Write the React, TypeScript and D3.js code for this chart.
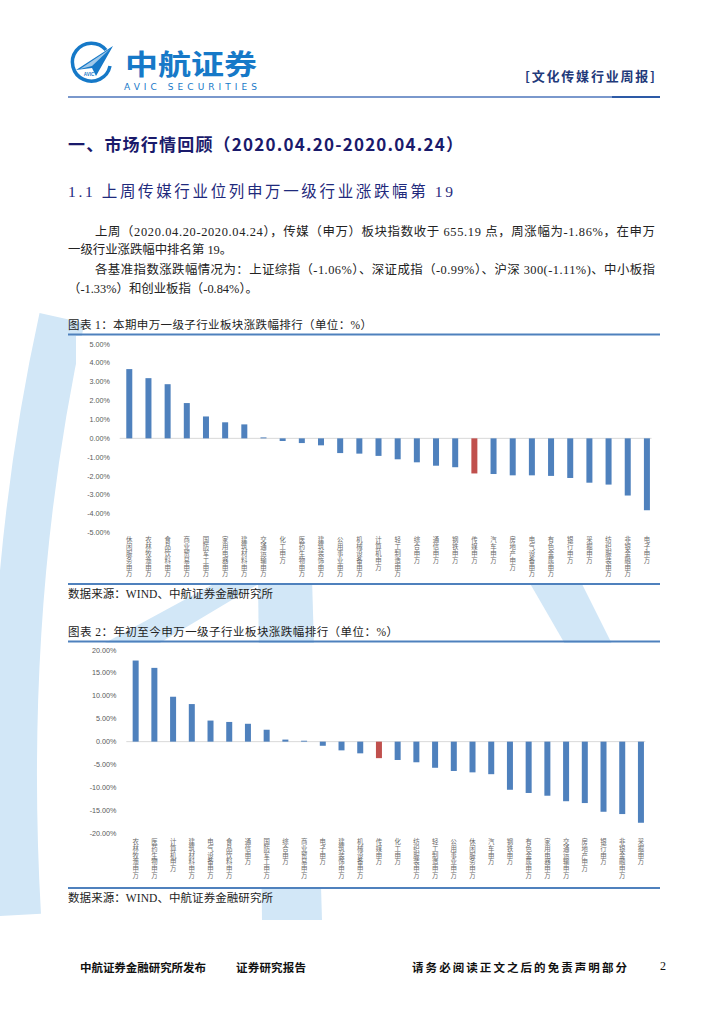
import * as d3 from 'd3';

// 本期（周）涨跌幅，单位 %
const weekCats = ['休闲服务', '农林牧渔', '食品饮料', '商业贸易', '国防军工', '家用电器', '建筑材料', '交通运输', '化工', '医药生物', '建筑装饰', '公用事业', '机械设备', '计算机', '轻工制造', '综合', '通信', '钢铁', '传媒', '汽车', '房地产', '电气设备', '有色金属', '银行', '采掘', '纺织服装', '非银金融', '电子'];
const weekVals = [3.67, 3.19, 2.87, 1.87, 1.16, 0.85, 0.74, 0.05, -0.14, -0.25, -0.37, -0.78, -0.81, -0.93, -1.11, -1.27, -1.45, -1.53, -1.86, -1.89, -1.96, -1.96, -1.99, -2.1, -2.35, -2.45, -3.03, -3.81];
const weekTicks = [5, 4, 3, 2, 1, 0, -1, -2, -3, -4, -5];

// 年初至今涨跌幅，单位 %
const ytdCats = ['农林牧渔', '医药生物', '计算机', '建筑材料', '电气设备', '食品饮料', '通信', '国防军工', '综合', '商业贸易', '电子', '建筑装饰', '机械设备', '传媒', '化工', '纺织服装', '轻工制造', '公用事业', '休闲服务', '汽车', '钢铁', '有色金属', '家用电器', '交通运输', '房地产', '银行', '非银金融', '采掘'];
const ytdVals = [17.7, 16.1, 9.8, 8.2, 4.6, 4.3, 3.9, 2.6, 0.45, 0.2, -0.9, -1.9, -2.55, -3.6, -4.0, -4.5, -5.7, -6.4, -6.7, -7.1, -10.5, -11.2, -11.8, -13.0, -13.4, -15.3, -15.8, -17.7];
const ytdTicks = [20, 15, 10, 5, 0, -5, -10, -15, -20];

const highlight = '传媒';
const suffix = '申万';

const BLUE = '#4f81bd';
const RED = '#c0504d';
const CJK = '"Noto Sans CJK SC", sans-serif';
const BODY = '"Liberation Serif", "Noto Sans CJK SC", serif';

type BarProps = {
  cats: string[];
  vals: number[];
  ticks: number[];
  x0: number;
  x1: number;
  yTop: number;
  yBot: number;
  labelX: number;
  labelY: number;
  barW: number;
};

function BarChart({ cats, vals, ticks, x0, x1, yTop, yBot, labelX, labelY, barW }: BarProps) {
  const x = d3.scaleBand<string>().domain(cats).range([x0, x1]);
  const ext = d3.extent(ticks) as [number, number];
  const y = d3.scaleLinear().domain(ext).range([yBot, yTop]);
  return (
    <g>
      {ticks.map(t => (
        <text key={t} x={labelX} y={y(t)} dy="0.35em" textAnchor="end"
          fontFamily='"Liberation Sans", sans-serif' fontSize={7.2} fill="#595959">
          {t.toFixed(2) + '%'}
        </text>
      ))}
      <line x1={x0} x2={x1 - 5} y1={y(0)} y2={y(0)} stroke="#d9d9d9" strokeWidth={1} />
      {cats.map((c, i) => {
        const v = vals[i];
        const cx = (x(c) ?? 0) + x.bandwidth() / 2;
        return (
          <rect key={c} x={cx - barW / 2} width={barW}
            y={Math.min(y(v), y(0))} height={Math.abs(y(v) - y(0))}
            fill={c === highlight ? RED : BLUE} />
        );
      })}
      {cats.map(c => {
        const cx = (x(c) ?? 0) + x.bandwidth() / 2;
        return (
          <text key={c} x={cx} y={yBot + labelY} fontFamily={CJK} fontSize={6.4} fill="#6a6a6a"
            letterSpacing={0.4} style={{ writingMode: 'vertical-rl' }}>
            {c + suffix}
          </text>
        );
      })}
    </g>
  );
}

function Logo() {
  return (
    <g>
      <path d="M 106 50 A 19 19 0 1 0 110 66" fill="none" stroke="#1679c8" strokeWidth={3.5} />
      <path d="M 76 70 L 113 46 L 96 76 L 92 68 Z" fill="#1679c8" />
      <path d="M 80 69 L 110 49 L 92 66 Z" fill="#ffffff" opacity={0.6} />
      <text x={89} y={76} fontFamily='"Liberation Sans", sans-serif' fontSize={4.5} fontWeight="bold"
        fill="#1679c8" textAnchor="middle">AVIC</text>
      <text x={125} y={75} fontFamily={CJK} fontSize={28} fontWeight="bold" fill="#1679c8"
        textLength={132} lengthAdjust="spacingAndGlyphs">中航证券</text>
      <text x={124} y={90} fontFamily='"DejaVu Sans", sans-serif' fontSize={9} fill="#1679c8"
        textLength={133} lengthAdjust="spacing">AVIC SECURITIES</text>
    </g>
  );
}

function Watermark() {
  const fill = '#d2e7f7';
  return (
    <g>
      <path d="M 62 318 Q 0 600 18 915" fill="none" stroke={fill} strokeWidth={46} />
      <path d="M 92 650 L 232 574 L 262 582 L 118 668 Z" fill={fill} />
      <path d="M 258 578 L 312 578 L 322 920 L 262 920 Z" fill={fill} />
      <path d="M 528 580 L 580 580 L 620 660 L 580 670 Z" fill={fill} />
    </g>
  );
}

function App() {
  return (
    <svg width={724} height={1024} viewBox="0 0 724 1024"
      style={{ position: 'absolute', left: 0, top: 0, background: '#ffffff' }}>
      <rect width={724} height={1024} fill="#ffffff" />
      <Watermark />
      {/* chart images have an opaque white background */}
      <rect x={76} y={336} width={584} height={247} fill="#ffffff" />
      <rect x={76} y={643} width={584} height={244} fill="#ffffff" />
      <Logo />
      <text x={525} y={81} fontFamily={CJK} fontSize={13} fontWeight="bold" fill="#1f3a7a"
        textLength={130} lengthAdjust="spacing">[文化传媒行业周报]</text>
      <line x1={68} x2={612} y1={97} y2={97} stroke="#7a98cc" strokeWidth={2} />
      <line x1={612} x2={660} y1={97} y2={97} stroke="#2d5aa6" strokeWidth={2} />

      <text x={68} y={151} fontFamily={CJK} fontSize={17} fontWeight="bold" fill="#1a1a6b"
        textLength={395} lengthAdjust="spacing">一、市场行情回顾（2020.04.20-2020.04.24）</text>
      <text x={68} y={197} fontFamily={BODY} fontSize={15.5} fill="#1f2a7c"
        textLength={385} lengthAdjust="spacing">1.1 上周传媒行业位列申万一级行业涨跌幅第 19</text>

      <g fontFamily={BODY} fontSize={12.4} fill="#222222">
        <text x={95} y={236} textLength={560} lengthAdjust="spacing">上周（2020.04.20-2020.04.24），传媒（申万）板块指数收于 655.19 点，周涨幅为-1.86%，在申万</text>
        <text x={68} y={254}>一级行业涨跌幅中排名第 19。</text>
        <text x={95} y={274} textLength={560} lengthAdjust="spacing">各基准指数涨跌幅情况为：上证综指（-1.06%）、深证成指（-0.99%）、沪深 300(-1.11%)、中小板指</text>
        <text x={68} y={293}>（-1.33%）和创业板指（-0.84%）。</text>
      </g>

      <text x={68} y={329} fontFamily={BODY} fontSize={11.5} fill="#222222"
        textLength={304} lengthAdjust="spacing">图表 1：本期申万一级子行业板块涨跌幅排行（单位：%）</text>
      <line x1={68} x2={660} y1={334.5} y2={334.5} stroke={BLUE} strokeWidth={2} />
      <BarChart cats={weekCats} vals={weekVals} ticks={weekTicks}
        x0={119.7} x1={656.5} yTop={344} yBot={532.7} labelX={110} labelY={4} barW={6} />
      <line x1={68} x2={660} y1={584} y2={584} stroke={BLUE} strokeWidth={2} />
      <text x={68} y={598} fontFamily={BODY} fontSize={11.5} fill="#222222"
        textLength={205} lengthAdjust="spacing">数据来源：WIND、中航证券金融研究所</text>

      <text x={68} y={636} fontFamily={BODY} fontSize={11.5} fill="#222222"
        textLength={330} lengthAdjust="spacing">图表 2：年初至今申万一级子行业板块涨跌幅排行（单位：%）</text>
      <line x1={68} x2={660} y1={641.5} y2={641.5} stroke={BLUE} strokeWidth={2} />
      <BarChart cats={ytdCats} vals={ytdVals} ticks={ytdTicks}
        x0={126.3} x1={650.3} yTop={650} yBot={833.3} labelX={116.5} labelY={5} barW={6} />
      <line x1={68} x2={660} y1={888} y2={888} stroke={BLUE} strokeWidth={2} />
      <text x={68} y={902} fontFamily={BODY} fontSize={11.5} fill="#222222"
        textLength={205} lengthAdjust="spacing">数据来源：WIND、中航证券金融研究所</text>

      <g fontFamily={CJK} fontSize={11.5} fontWeight="bold" fill="#111111">
        <text x={80} y={972} textLength={126} lengthAdjust="spacing">中航证券金融研究所发布</text>
        <text x={236} y={972} textLength={70} lengthAdjust="spacing">证券研究报告</text>
        <text x={412} y={972} textLength={215} lengthAdjust="spacing">请务必阅读正文之后的免责声明部分</text>
      </g>
      <text x={660} y={970} fontFamily={BODY} fontSize={12} fill="#111111">2</text>
    </svg>
  );
}

export default App;
